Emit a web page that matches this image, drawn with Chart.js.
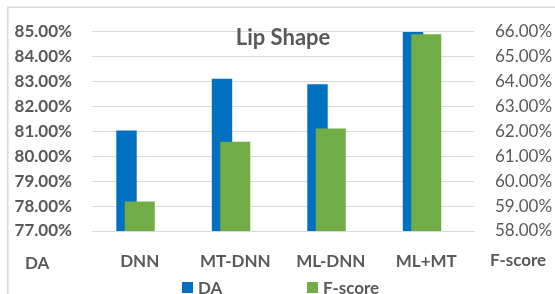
<!DOCTYPE html>
<html>
<head>
<meta charset="utf-8">
<script src="https://cdn.jsdelivr.net/npm/chart.js@4"></script>
<style>
  html, body { margin: 0; padding: 0; background: #fff; overflow: hidden; }
  #wrap { position: relative; width: 555px; height: 294px; }
</style>
</head>
<body>
<div id="wrap"><canvas id="myChart" width="555" height="294"></canvas></div>
<script>
// data
const categories = ['DNN', 'MT-DNN', 'ML-DNN', 'ML+MT'];
const daValues = [81.02, 83.10, 82.88, 84.97];
const fscoreValues = [59.18, 61.57, 62.10, 65.88];
const daTicks = [77, 78, 79, 80, 81, 82, 83, 84, 85];
const fscoreTicks = [58, 59, 60, 61, 62, 63, 64, 65, 66];

const FONT = "Lato, 'Liberation Sans', sans-serif";
const GREY = '#595959';
const BLUE = '#0070C0';
const GREEN = '#70AD47';

// frame, title, axis names and legend, Excel style
const decor = {
  id: 'decor',
  beforeDraw(chart) {
    const ctx = chart.ctx;
    ctx.save();
    ctx.strokeStyle = '#d9d9d9';
    ctx.lineWidth = 1.5;
    ctx.strokeRect(7.75, 7.25, 700, 400);
    ctx.restore();
  },
  afterDraw(chart) {
    const ctx = chart.ctx;
    const area = chart.chartArea;
    ctx.save();
    ctx.fillStyle = GREY;
    ctx.textBaseline = 'alphabetic';

    // title inside the plot
    ctx.font = 'bold 22px ' + FONT;
    ctx.textAlign = 'center';
    ctx.fillText('Lip Shape', (area.left + area.right) / 2, 45);

    // axis names under the tick columns
    ctx.font = 'bold 17px ' + FONT;
    ctx.textAlign = 'left';
    ctx.fillText('DA', area.left - 67, 269);
    ctx.fillText('F-score', area.right + 16, 266);

    // legend
    const items = chart.data.datasets.filter(d => d.label);
    const starts = [182, 307];
    items.forEach((d, i) => {
      const x = starts[i];
      ctx.fillStyle = d.backgroundColor;
      ctx.fillRect(x, 282, 11, 11);
      ctx.fillStyle = GREY;
      ctx.fillText(d.label, x + 16, 294);
    });
    ctx.restore();
  }
};

const ctx = document.getElementById('myChart').getContext('2d');

const chart = new Chart(ctx, {
  type: 'bar',
  data: {
    labels: categories,
    datasets: [
      {
        label: 'DA',
        data: daValues,
        backgroundColor: BLUE,
        yAxisID: 'y',
        order: 1,
        categoryPercentage: 0.555,
        barPercentage: 0.77
      },
      {
        // empty slot so the DA bar sits left of the category centre
        label: '',
        data: categories.map(() => null),
        yAxisID: 'y',
        order: 1,
        categoryPercentage: 0.555,
        barPercentage: 0.77
      },
      {
        label: 'F-score',
        data: fscoreValues,
        backgroundColor: GREEN,
        yAxisID: 'y1',
        order: 0,
        grouped: false,
        categoryPercentage: 0.4,
        barPercentage: 0.785
      }
    ]
  },
  options: {
    responsive: false,
    animation: false,
    layout: { padding: { left: 0, right: 0, top: 24, bottom: 0 } },
    plugins: {
      legend: { display: false },
      tooltip: { enabled: false },
      title: { display: false }
    },
    scales: {
      x: {
        type: 'category',
        offset: true,
        grid: { display: false },
        border: { display: true, color: '#d9d9d9', width: 1 },
        ticks: {
          color: GREY,
          padding: 12,
          font: { family: FONT, size: 17, weight: 'bold' }
        },
        afterFit: s => { s.height = 63; }
      },
      y: {
        position: 'left',
        min: daTicks[0],
        max: daTicks[daTicks.length - 1],
        afterBuildTicks: s => { s.ticks = daTicks.map(v => ({ value: v })); },
        grid: { color: '#d9d9d9', lineWidth: 1, drawTicks: false },
        border: { display: false },
        ticks: {
          color: GREY,
          padding: 20,
          font: { family: FONT, size: 17, weight: 'bold' },
          callback: v => v.toFixed(2) + '%'
        },
        afterFit: s => { s.width = 92; }
      },
      y1: {
        position: 'right',
        min: fscoreTicks[0],
        max: fscoreTicks[fscoreTicks.length - 1],
        afterBuildTicks: s => { s.ticks = fscoreTicks.map(v => ({ value: v })); },
        grid: { drawOnChartArea: false, drawTicks: false },
        border: { display: false },
        ticks: {
          color: GREY,
          padding: 21,
          font: { family: FONT, size: 17 },
          callback: v => v.toFixed(2) + '%'
        },
        afterFit: s => { s.width = 81; }
      }
    }
  },
  plugins: [decor]
});
</script>
</body>
</html>
